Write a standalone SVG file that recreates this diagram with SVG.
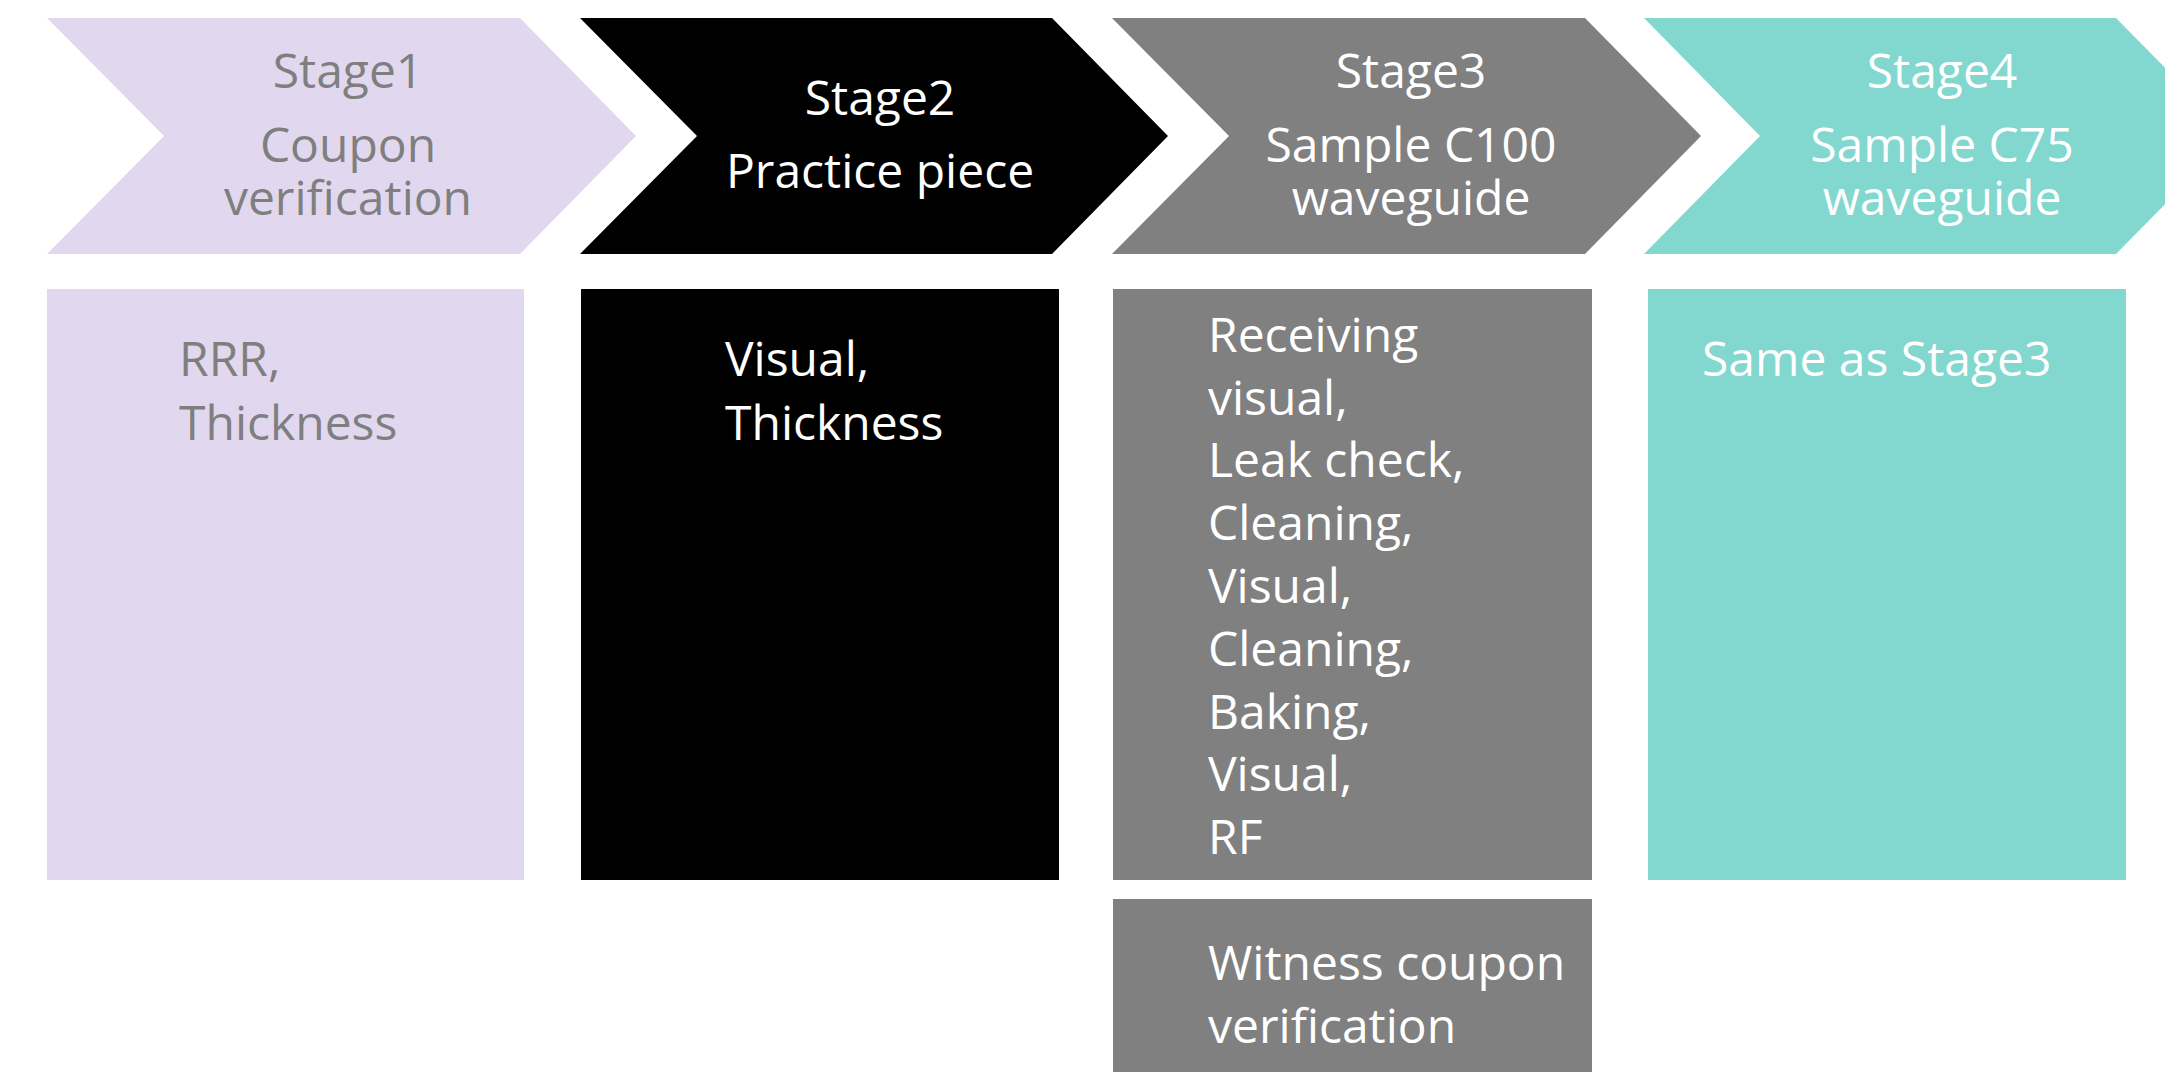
<svg xmlns="http://www.w3.org/2000/svg" width="2165" height="1072" viewBox="0 0 2165 1072">
<style>
  text { font-family: "Open Sans", "Liberation Sans", sans-serif; font-size: 48px; }
  .h { text-anchor: middle; }
  .g { fill: #7F7F7F; }
  .w { fill: #FFFFFF; }
  .lav { fill: #E1D8F0; }
  .blk { fill: #000000; }
  .gry { fill: #808080; }
  .tea { fill: #82D7CF; }
</style>
<rect width="2165" height="1072" fill="#FFFFFF"/>
<g id="stage1">
  <polygon class="lav" points="47,18 520,18 636,136 520,254 47,254 164,136"/>
  <text class="h g" x="348" y="88">Stage1</text>
  <text class="h g" x="348" y="162">Coupon</text>
  <text class="h g" x="348" y="215">verification</text>
</g>
<g id="stage2">
  <polygon class="blk" points="580,18 1052,18 1168,136 1052,254 580,254 697,136"/>
  <text class="h w" x="880" y="115">Stage2</text>
  <text class="h w" x="880" y="188">Practice piece</text>
</g>
<g id="stage3">
  <polygon class="gry" points="1112,18 1585,18 1701,136 1585,254 1112,254 1229,136"/>
  <text class="h w" x="1411" y="88">Stage3</text>
  <text class="h w" x="1411" y="162">Sample C100</text>
  <text class="h w" x="1411" y="215">waveguide</text>
</g>
<g id="stage4">
  <polygon class="tea" points="1644,18 2116,18 2232,136 2116,254 1644,254 1760,136"/>
  <text class="h w" x="1942" y="88">Stage4</text>
  <text class="h w" x="1942" y="162">Sample C75</text>
  <text class="h w" x="1942" y="215">waveguide</text>
</g>
<g id="box1">
  <rect class="lav" x="47" y="289" width="477" height="591"/>
  <text class="g" x="179" y="376">RRR,</text>
  <text class="g" x="179" y="440">Thickness</text>
</g>
<g id="box2">
  <rect class="blk" x="581" y="289" width="478" height="591"/>
  <text class="w" x="725" y="376">Visual,</text>
  <text class="w" x="725" y="440">Thickness</text>
</g>
<g id="box3">
  <rect class="gry" x="1113" y="289" width="479" height="591"/>
  <text class="w" x="1208" y="352">Receiving</text>
  <text class="w" x="1208" y="415">visual,</text>
  <text class="w" x="1208" y="477">Leak check,</text>
  <text class="w" x="1208" y="540">Cleaning,</text>
  <text class="w" x="1208" y="603">Visual,</text>
  <text class="w" x="1208" y="666">Cleaning,</text>
  <text class="w" x="1208" y="729">Baking,</text>
  <text class="w" x="1208" y="791">Visual,</text>
  <text class="w" x="1208" y="854">RF</text>
</g>
<g id="box4">
  <rect class="tea" x="1648" y="289" width="478" height="591"/>
  <text class="w" x="1702" y="376">Same as Stage3</text>
</g>
<g id="box5">
  <rect class="gry" x="1113" y="899" width="479" height="180"/>
  <text class="w" x="1208" y="980">Witness coupon</text>
  <text class="w" x="1208" y="1043">verification</text>
</g>
<g id="connectors"></g>
</svg>
